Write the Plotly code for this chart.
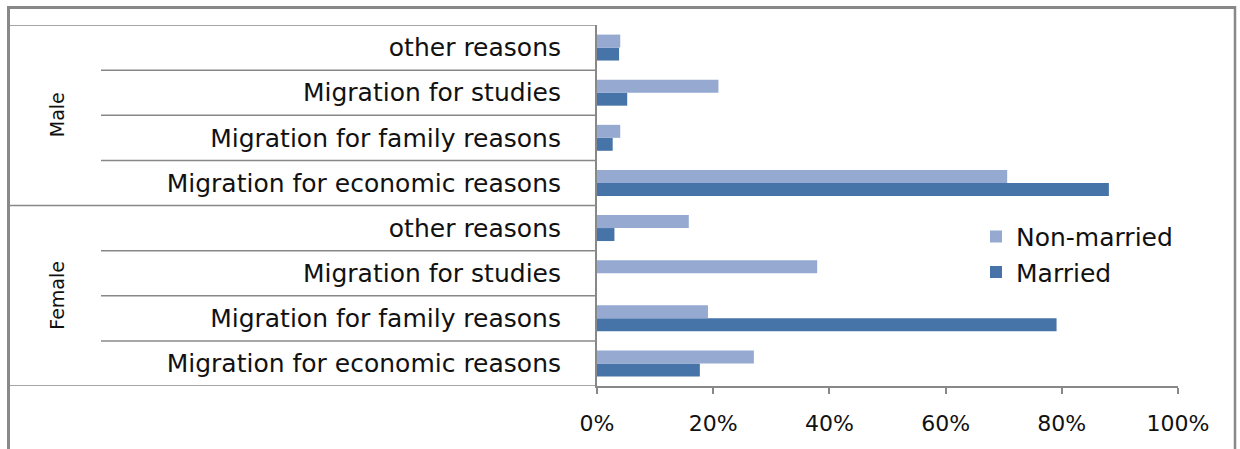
import plotly.graph_objects as go

# Reasons for migration, listed bottom-to-top within each sex
reasons = ["Migration for economic reasons", "Migration for family reasons",
           "Migration for studies", "other reasons"]
sexes = ["Female", "Male"]

# Share of migrants (%) by reason, in the order of `reasons`
married_female = [17.7, 79.1, 0.0, 3.0]
married_male = [88.1, 2.7, 5.2, 3.8]
non_married_female = [27.0, 19.1, 37.9, 15.8]
non_married_male = [70.6, 4.0, 20.9, 4.0]

x_ticks = [0, 20, 40, 60, 80, 100]
x_tick_labels = ["0%", "20%", "40%", "60%", "80%", "100%"]

# Colours
light_blue = "#95A9D1"
dark_blue = "#4673A8"
rule_grey = "#888888"

# Row positions: Female rows 0-3, Male rows 4-7
row_labels = reasons + reasons
rows = list(range(len(row_labels)))
married = married_female + married_male
non_married = non_married_female + non_married_male

W, H = 1240, 449
L, R, T, B = 597, 62, 25, 62.5
plot_w = W - L - R
plot_h = H - T - B


def px_x(p):
    """Pixel column -> paper x."""
    return (p - L) / plot_w


def px_y(p):
    """Pixel row -> paper y."""
    return (H - B - p) / plot_h


fig = go.Figure()
fig.add_trace(go.Bar(
    y=rows, x=married, orientation="h", name="Married",
    marker=dict(color=dark_blue, line=dict(width=0)), legendgroup="m",
))
fig.add_trace(go.Bar(
    y=rows, x=non_married, orientation="h", name="Non-married",
    marker=dict(color=light_blue, line=dict(width=0)), legendgroup="n",
))

shapes = []
# Outer frame (left, top, right)
frame = dict(type="line", xref="paper", yref="paper",
             line=dict(color=rule_grey, width=3))
shapes.append(dict(frame, x0=px_x(8.5), x1=px_x(8.5), y0=px_y(6), y1=px_y(452)))
shapes.append(dict(frame, x0=px_x(7), x1=px_x(1236), y0=px_y(7.5), y1=px_y(7.5)))
shapes.append(dict(frame, x0=px_x(1235), x1=px_x(1235), y0=px_y(6), y1=px_y(452),
                   line=dict(color=rule_grey, width=2.5)))

# Category dividers in the label panel
for b in [r + 0.5 for r in range(-1, len(rows))]:
    full = b in (-0.5, 3.5, len(rows) - 0.5)
    shapes.append(dict(
        type="line", xref="paper", yref="y",
        x0=px_x(9) if full else px_x(101), x1=0, y0=b, y1=b,
        line=dict(color=rule_grey, width=1.5),
    ))

annotations = []
for i, sex in enumerate(sexes):
    annotations.append(dict(
        text=sex, xref="paper", yref="y", x=px_x(44), y=i * 4 + 1.5,
        showarrow=False, textangle=-90,
        font=dict(family="DejaVu Sans", size=19, color="#111111"),
    ))

fig.update_layout(
    width=W, height=H,
    margin=dict(l=L, r=R, t=T, b=B, pad=0),
    paper_bgcolor="white", plot_bgcolor="white",
    barmode="group", bargap=0.425, bargroupgap=0,
    font=dict(family="DejaVu Sans", size=22, color="#111111"),
    showlegend=True,
    legend=dict(
        x=px_x(976), xanchor="left", y=px_y(214), yanchor="top",
        traceorder="reversed", tracegroupgap=6,
        font=dict(size=25), bgcolor="rgba(0,0,0,0)",
    ),
    shapes=shapes,
    annotations=annotations,
)
fig.update_xaxes(
    range=[0, 100], tickvals=x_ticks, ticktext=x_tick_labels,
    showgrid=False, zeroline=False,
    showline=True, linecolor=rule_grey, linewidth=2,
    ticks="outside", ticklen=6, tickwidth=1.5, tickcolor=rule_grey,
    ticklabelstandoff=11, tickfont=dict(size=22),
)
fig.update_yaxes(
    range=[-0.5, len(rows) - 0.5], tickvals=rows, ticktext=row_labels,
    showgrid=False, zeroline=False,
    showline=True, linecolor=rule_grey, linewidth=2,
    ticks="", ticklabelstandoff=29, tickfont=dict(size=25),
)

fig.write_html("out.html")
